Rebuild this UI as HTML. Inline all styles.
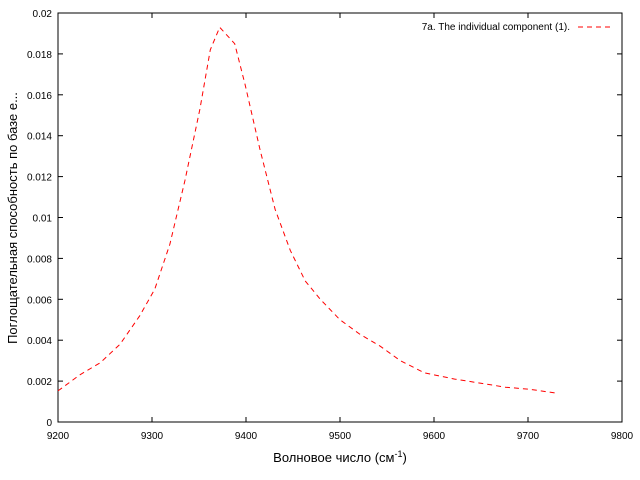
<!DOCTYPE html>
<html><head><meta charset="utf-8"><style>
body{margin:0;background:#fff;}
svg{display:block;font-family:"Liberation Sans","DejaVu Sans",sans-serif;}
</style></head><body>
<svg id="chart" width="640" height="480" xmlns="http://www.w3.org/2000/svg">
<rect x="58" y="13" width="564" height="409" fill="none" stroke="#000" stroke-width="1"/>
<g id="ticks"></g>
<path id="series" fill="none" stroke="#ff0000" stroke-width="1" stroke-dasharray="5,4"/>
<g>
<text x="570" y="30" font-size="10" text-anchor="end">7a. The individual  component (1).</text>
<line x1="578" y1="27" x2="610" y2="27" stroke="#ff0000" stroke-dasharray="5,4"/>
</g>
<text x="340" y="462" font-size="13" text-anchor="middle">Волновое число (см<tspan font-size="9" dy="-5">-1</tspan><tspan dy="5">)</tspan></text>
<text transform="translate(17,218) rotate(-90)" font-size="13" text-anchor="middle">Поглощательная способность по базе e...</text>
</svg>
<script>
const xs=[9200,9223,9245,9266,9287,9303,9319,9335,9351,9362,9372,9388,9399,9415,9431,9447,9463,9479,9500,9521,9543,9564,9590,9622,9649,9676,9702,9732];
const ys=[0.00152,0.0023,0.0029,0.0038,0.0052,0.0065,0.0087,0.0118,0.0153,0.0182,0.0193,0.0185,0.0165,0.0133,0.0104,0.0084,0.0069,0.006,0.005,0.0043,0.0037,0.003,0.0024,0.0021,0.0019,0.0017,0.0016,0.0014];
const xTicks=[9200,9300,9400,9500,9600,9700,9800];
const yTicks=[0,0.002,0.004,0.006,0.008,0.01,0.012,0.014,0.016,0.018,0.02];
const yLabels=["0","0.002","0.004","0.006","0.008","0.01","0.012","0.014","0.016","0.018","0.02"];
const X=v=>58+(v-9200)/600*564;
const Y=v=>422-v/0.02*409;
const NS="http://www.w3.org/2000/svg";
const g=document.getElementById('ticks');
function mk(t,a){const e=document.createElementNS(NS,t);for(const k in a)e.setAttribute(k,a[k]);g.appendChild(e);return e;}
xTicks.forEach(v=>{
 const x=X(v);
 const t1=mk('line',{x1:x,y1:422,x2:x,y2:417,stroke:'#000'});
 
 
 const t2=mk('line',{x1:x,y1:13,x2:x,y2:18,stroke:'#000'});
 
 
 const l=mk('text',{x:x,y:439,'font-size':10,'text-anchor':'middle'});l.textContent=v;
 
 
});
yTicks.forEach((v,i)=>{
 const y=Y(v);
 const t1=mk('line',{x1:58,y1:y,x2:63,y2:y,stroke:'#000'});
 
 
 const t2=mk('line',{x1:622,y1:y,x2:617,y2:y,stroke:'#000'});
 
 
 const l=mk('text',{x:52,y:y+4,'font-size':10,'text-anchor':'end'});l.textContent=yLabels[i];
 
 
});
document.getElementById('series').setAttribute('d',xs.map((v,i)=>(i?'L':'M')+X(v).toFixed(1)+','+Y(ys[i]).toFixed(1)).join(''));
</script>
</body></html>
